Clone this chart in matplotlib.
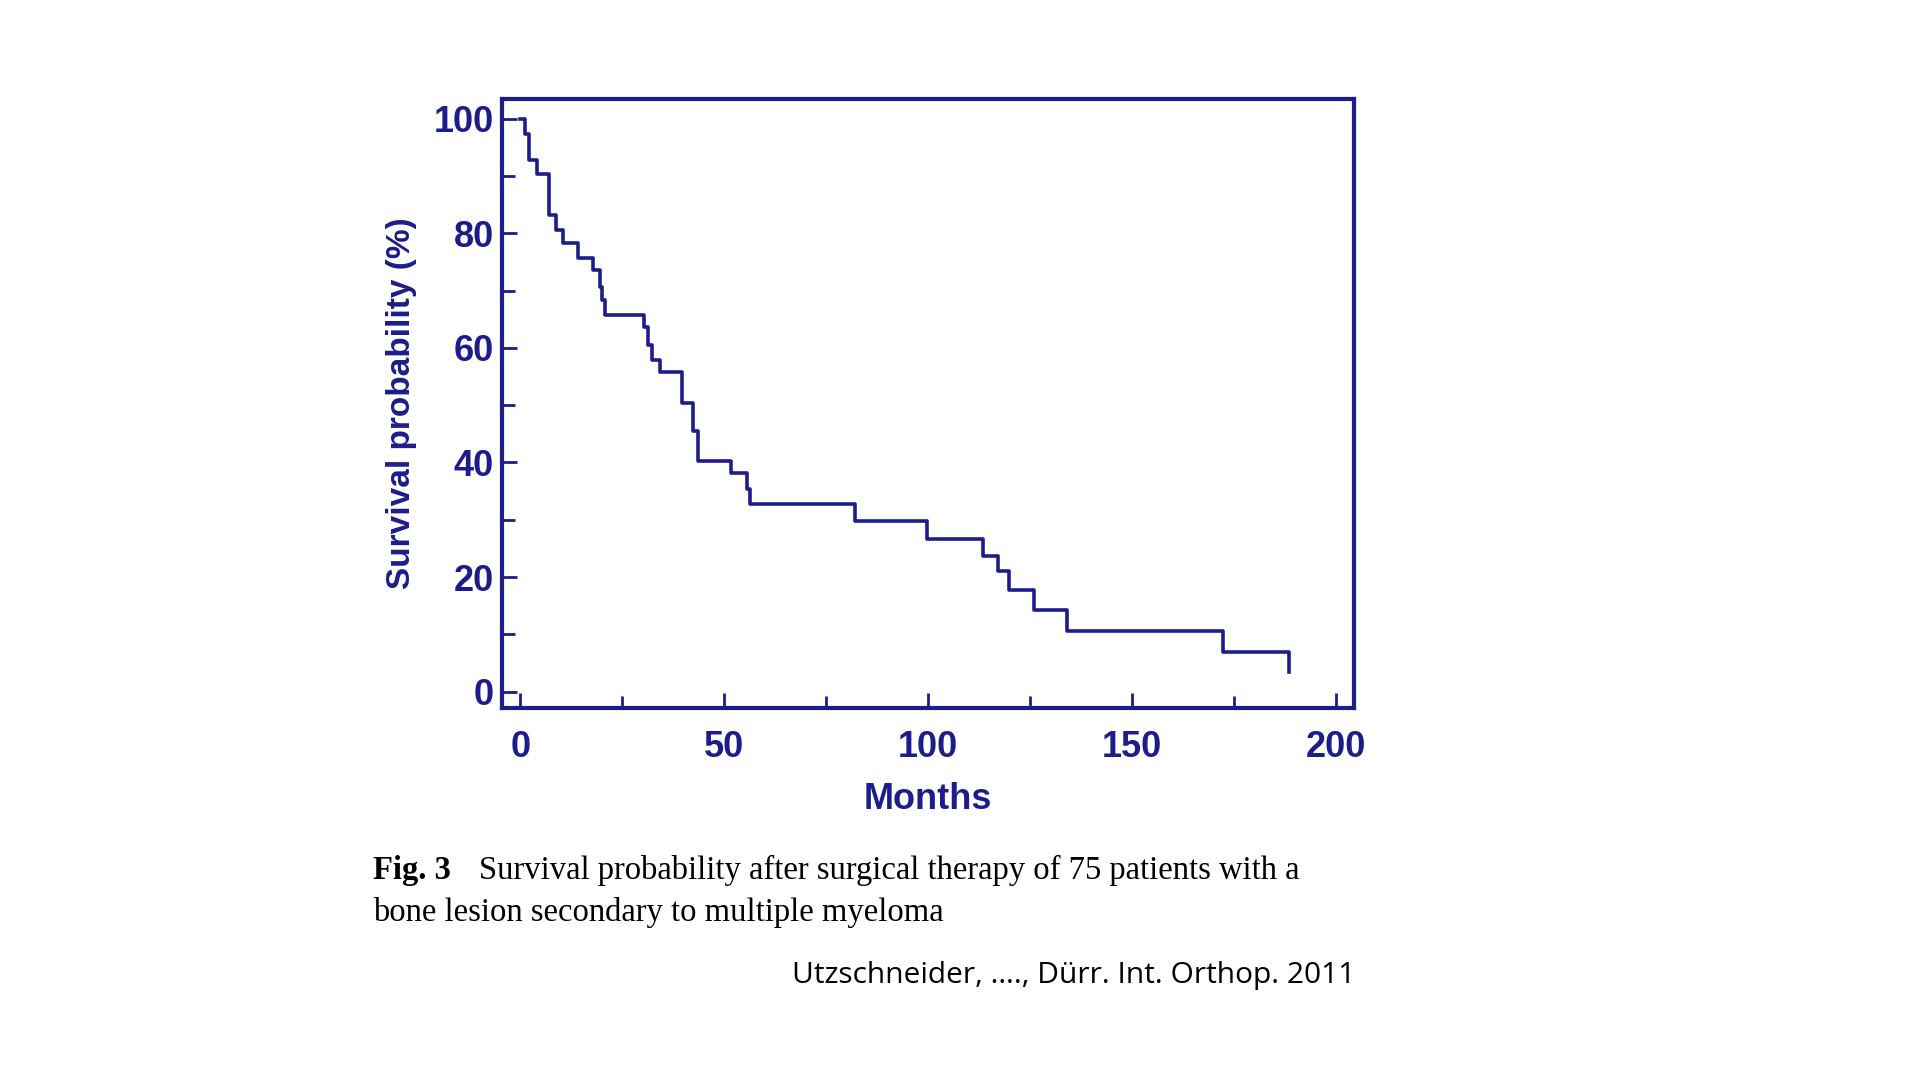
import matplotlib.pyplot as plt

NAVY = "#1c1c8c"

# Kaplan-Meier steps: (month, survival %)
months = [0, 1.2, 2.0, 4.1, 6.9, 8.8, 10.5, 14.0, 17.8, 19.4, 20.0, 20.8, 30.2, 31.2,
          32.3, 34.3, 39.5, 42.3, 43.6, 51.6, 55.5, 56.3, 82.0, 99.7, 113.5, 117.2,
          119.8, 126.0, 134.0, 172.3, 188.5]
survival = [100, 97.3, 92.8, 90.3, 83.2, 80.6, 78.3, 75.7, 73.5, 70.6, 68.3, 65.8, 63.7,
            60.5, 57.9, 55.7, 50.4, 45.5, 40.3, 38.2, 35.3, 32.8, 29.7, 26.7, 23.7, 21.0,
            17.8, 14.3, 10.6, 7.0, 3.5]
x_ticks = [0, 50, 100, 150, 200]
y_ticks = [0, 20, 40, 60, 80, 100]

fig = plt.figure(figsize=(19.2, 10.8), dpi=100)
ax = fig.add_axes([0.2615, 0.3447, 0.4439, 0.5635])
ax.step(months, survival, where="post", color=NAVY, linewidth=2.6)
ax.set_xlim(-4.5, 204.5)
ax.set_ylim(-2.8, 103.4)
ax.set_xticks(x_ticks)
ax.set_yticks(y_ticks)
ax.set_xticks([25, 75, 125, 175], minor=True)
ax.set_yticks([10, 30, 50, 70, 90], minor=True)
ax.tick_params(which="both", direction="in", color=NAVY, width=2, labelcolor=NAVY,
               labelsize=26, top=False, right=False)
ax.tick_params(which="major", length=11)
ax.tick_params(which="minor", length=9)
ax.tick_params(axis="x", which="major", pad=16)
ax.tick_params(axis="y", which="major", pad=6)
for lab in ax.get_xticklabels() + ax.get_yticklabels():
    lab.set_fontweight("bold")
    lab.set_family("Liberation Sans")
for sp in ax.spines.values():
    sp.set_color(NAVY)
    sp.set_linewidth(3)

ax.set_ylabel("Survival probability (%)", color=NAVY, fontsize=24, fontweight="bold",
              family="Liberation Sans", labelpad=12)
ax.set_xlabel("Months", color=NAVY, fontsize=26, fontweight="bold",
              family="Liberation Sans", labelpad=12)

fig.text(0.1945, 0.194, "Fig. 3", fontsize=23.5, fontweight="bold", family="Liberation Serif",
         va="center")
fig.text(0.2495, 0.194, "Survival probability after surgical therapy of 75 patients with a",
         fontsize=23.5, family="Liberation Serif", va="center")
fig.text(0.1945, 0.155, "bone lesion secondary to multiple myeloma",
         fontsize=23.5, family="Liberation Serif", va="center")
fig.text(0.706, 0.097, "Utzschneider, …., Dürr. Int. Orthop. 2011",
         fontsize=21.5, family="Open Sans", ha="right", va="center")

fig.savefig("out.png", dpi=100)
